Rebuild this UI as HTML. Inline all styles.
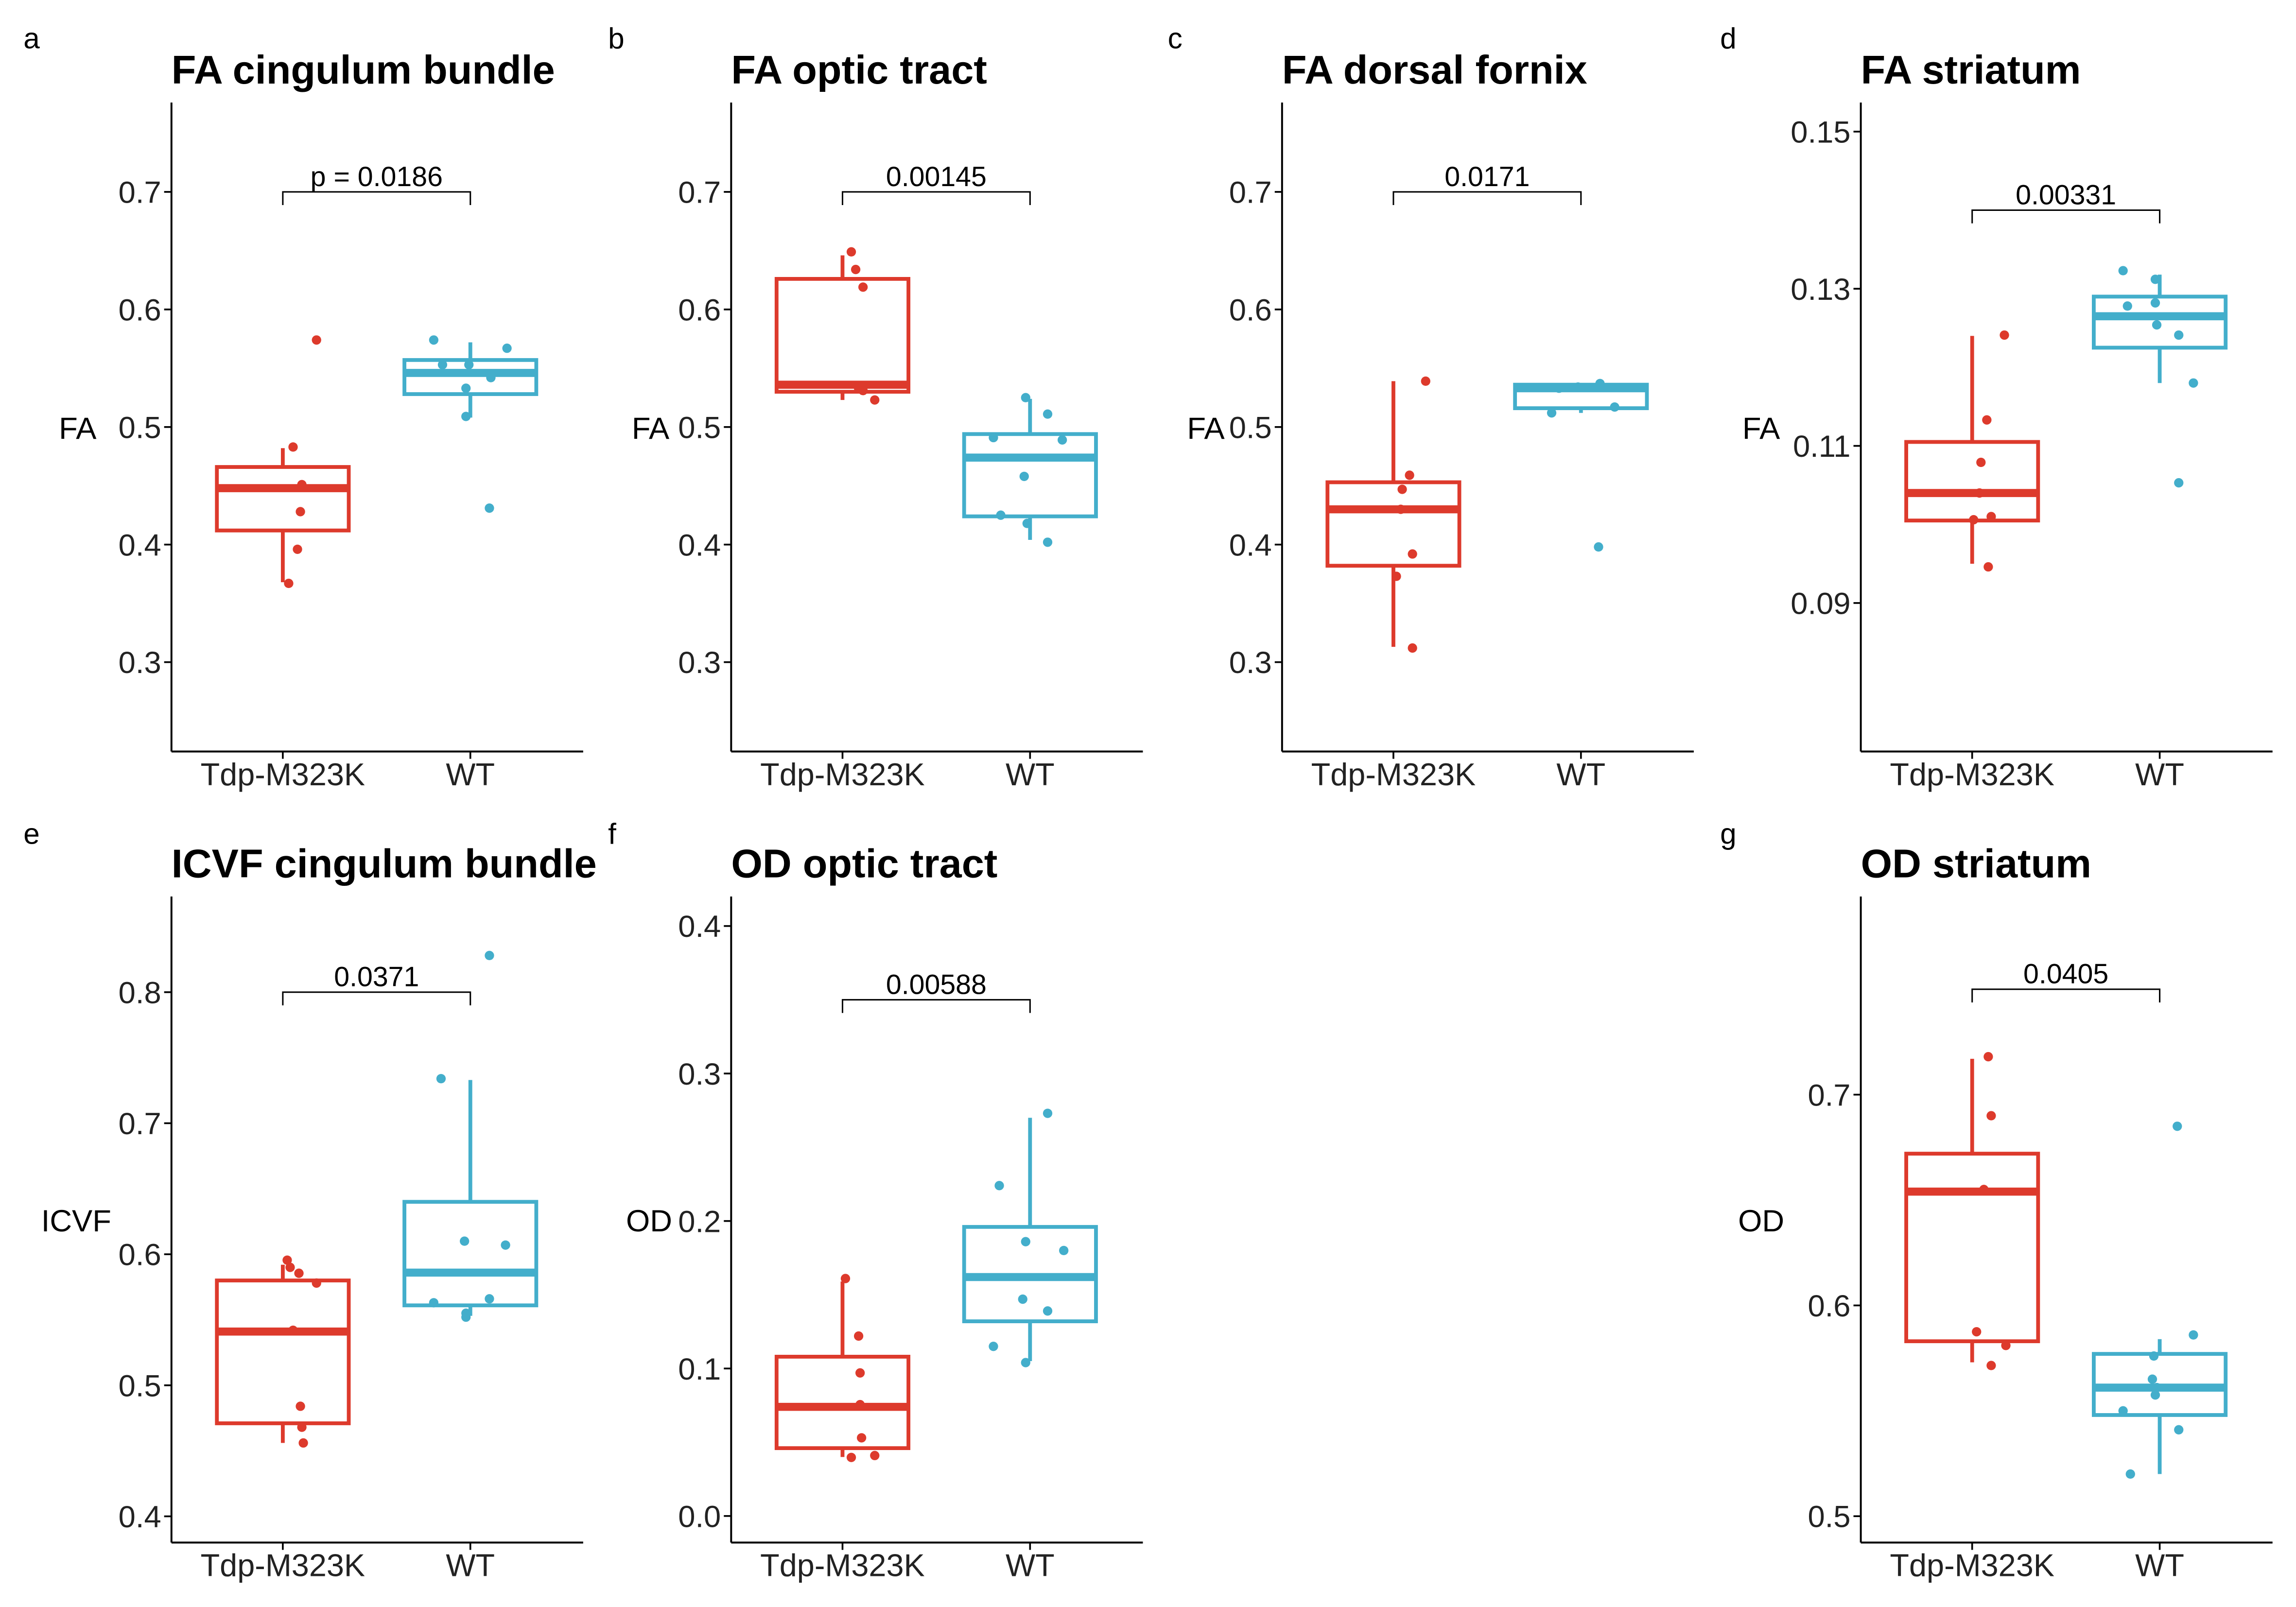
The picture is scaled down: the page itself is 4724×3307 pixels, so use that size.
<!DOCTYPE html>
<html><head><meta charset="utf-8"><style>
html,body{margin:0;padding:0;background:#fff;}
svg{display:block;font-family:"Liberation Sans",Arial,sans-serif;}
</style></head><body>
<svg id="fig" xmlns="http://www.w3.org/2000/svg" width="4724" height="3307" viewBox="0 0 1567 1097"></svg>
<script>
// ---- data ----
const categories = ["Tdp-M323K", "WT"];
const panelTitles = ["FA cingulum bundle","FA optic tract","FA dorsal fornix","FA striatum","ICVF cingulum bundle","OD optic tract","OD striatum"];
const panelLetters = ["a","b","c","d","e","f","g"];
const yTitles = ["FA","FA","FA","FA","ICVF","OD","OD"];
const pLabels = ["p = 0.0186","0.00145","0.0171","0.00331","0.0371","0.00588","0.0405"];
const bracketValues = [0.7,0.7,0.7,0.14,0.8,0.35,0.75];
const yTicks = [[0.3,0.4,0.5,0.6,0.7],[0.3,0.4,0.5,0.6,0.7],[0.3,0.4,0.5,0.6,0.7],[0.09,0.11,0.13,0.15],[0.4,0.5,0.6,0.7,0.8],[0.0,0.1,0.2,0.3,0.4],[0.5,0.6,0.7]];
const yTickLabels = [["0.3","0.4","0.5","0.6","0.7"],["0.3","0.4","0.5","0.6","0.7"],["0.3","0.4","0.5","0.6","0.7"],["0.09","0.11","0.13","0.15"],["0.4","0.5","0.6","0.7","0.8"],["0.0","0.1","0.2","0.3","0.4"],["0.5","0.6","0.7"]];
const yDomains = [[0.224,0.776],[0.224,0.776],[0.224,0.776],[0.0711,0.1537],[0.380,0.873],[-0.018,0.420],[0.4875,0.794]];
// box stats: [min, q1, median, q3, max]
const boxTdp = [[0.368,0.412,0.448,0.466,0.482],[0.523,0.530,0.536,0.626,0.646],[0.313,0.382,0.430,0.453,0.539],[0.095,0.1005,0.104,0.1105,0.124],[0.456,0.471,0.541,0.580,0.592],[0.040,0.046,0.074,0.108,0.159],[0.573,0.583,0.654,0.672,0.717]];
const boxWT = [[0.508,0.528,0.546,0.557,0.572],[0.404,0.424,0.474,0.494,0.524],[0.512,0.516,0.533,0.536,0.537],[0.118,0.1225,0.1265,0.129,0.1318],[0.553,0.561,0.586,0.640,0.733],[0.105,0.132,0.162,0.196,0.270],[0.520,0.548,0.561,0.577,0.584]];
const pointsTdp = [[0.483,0.574,0.451,0.428,0.396,0.367],[0.649,0.634,0.619,0.533,0.531,0.523],[0.539,0.459,0.447,0.392,0.373,0.312,0.430],[0.1241,0.1133,0.1079,0.101,0.1006,0.0946,0.104],[0.5955,0.590,0.5855,0.578,0.542,0.484,0.468,0.456],[0.161,0.122,0.097,0.0755,0.053,0.0397,0.041],[0.718,0.690,0.655,0.5875,0.581,0.5715]];
const pointsWT = [[0.574,0.553,0.553,0.542,0.533,0.567,0.509,0.431],[0.525,0.511,0.491,0.489,0.458,0.425,0.418,0.402],[0.512,0.537,0.534,0.533,0.517,0.398],[0.1323,0.1312,0.1278,0.1282,0.1254,0.1241,0.118,0.1053],[0.828,0.734,0.610,0.607,0.563,0.566,0.555,0.552],[0.273,0.224,0.186,0.180,0.147,0.139,0.115,0.104],[0.685,0.586,0.576,0.565,0.561,0.5575,0.550,0.541,0.520]];
const jitterTdp = [[7,23,13,12,10,4],[6,9,14,11,14,22],[22,11,6,13,2,13,5],[22,10,6,13,1,11,5],[3,5,11,23,7,12,13,14],[2,11,12,12,13,6,22],[11,13,8,3,23,13]];
const jitterWT = [[-25,-19,-1,14,-3,25,-3,13],[-3,12,-25,22,-4,-20,-2,12],[-20,13,-2,-15,23,12],[-25,-3,-22,-3,-2,13,23,13],[13,-20,-4,24,-25,13,-3,-3],[12,-21,-3,23,-5,12,-25,-3],[12,23,-4,-5,-2,-3,-25,13,-20]];

// ---- layout ----
const NS = "http://www.w3.org/2000/svg";
const svg = document.getElementById("fig");
const axisX = [117,499,875,1270,117,499,1270];
const rowTop = [70,70,70,70,612,612,612];
const rowBot = [513,513,513,513,1053,1053,1053];
const yTitleX = [53,444,823,1202,52,443,1202];
const letterX = [22,421,803,1180,22,421,1180];
const RED = "#DD3A2C", BLUE = "#43AECB";
function mk(tag, attrs, parent){const e=document.createElementNS(NS,tag);for(const k in attrs)e.setAttribute(k,attrs[k]);(parent||svg).appendChild(e);return e;}

for(let p=0;p<7;p++){
  const g = mk("g",{});
  
  
  const x0 = axisX[p], x1 = x0+281, top = rowTop[p], bot = rowBot[p];
  const [d0,d1] = yDomains[p];
  const Y = v => bot - (v-d0)/(d1-d0)*(bot-top);
  const X = i => x0 + 76 + i*128;
  const lt = mk("text",{x:letterX[p]-6,y:(top===70?33:576),"font-size":20},g); lt.textContent=panelLetters[p];
  
  
  const tt = mk("text",{x:x0,y:top-13,"font-size":27.5,"font-weight":"bold"},g); tt.textContent=panelTitles[p];
  
  
  const ya = mk("line",{x1:x0,y1:top,x2:x0,y2:bot,stroke:"#000","stroke-width":1.3},g);
  
  
  const xa = mk("line",{x1:x0,y1:bot,x2:x1,y2:bot,stroke:"#000","stroke-width":1.3},g);
  
  
  yTicks[p].forEach((t,i)=>{
    const y=Y(t);
    const tk = mk("line",{x1:x0-5,y1:y,x2:x0,y2:y,stroke:"#000","stroke-width":1.2},g);
    
    
    const tl = mk("text",{x:x0-7,y:y+7.5,"font-size":21,"text-anchor":"end",fill:"#222"},g); tl.textContent=yTickLabels[p][i];
    
    
  });
  categories.forEach((c,i)=>{
    const tk = mk("line",{x1:X(i),y1:bot,x2:X(i),y2:bot+5,stroke:"#000","stroke-width":1.2},g);
    
    
    const cl = mk("text",{x:X(i),y:bot+23,"font-size":21.5,"text-anchor":"middle",fill:"#222"},g); cl.textContent=c;
    
    
  });
  const yt = mk("text",{x:yTitleX[p],y:(top+bot)/2+8,"font-size":21,"text-anchor":"middle"},g); yt.textContent=yTitles[p];
  
  
  [[boxTdp,pointsTdp,jitterTdp,RED],[boxWT,pointsWT,jitterWT,BLUE]].forEach(([B,P,J,col],i)=>{
    const s=B[p], cx=X(i), hw=45;
    const wl = mk("line",{x1:cx,y1:Y(s[0]),x2:cx,y2:Y(s[1]),stroke:col,"stroke-width":2.6},g);
    
    
    const wu = mk("line",{x1:cx,y1:Y(s[3]),x2:cx,y2:Y(s[4]),stroke:col,"stroke-width":2.6},g);
    
    
    const bx = mk("rect",{x:cx-hw,y:Y(s[3]),width:2*hw,height:Y(s[1])-Y(s[3]),fill:"none",stroke:col,"stroke-width":2.6},g);
    
    
    const md = mk("line",{x1:cx-hw,y1:Y(s[2]),x2:cx+hw,y2:Y(s[2]),stroke:col,"stroke-width":5.5},g);
    
    
    P[p].forEach((v,k)=>{
      const dot = mk("circle",{cx:cx+J[p][k],cy:Y(v),r:3.2,fill:col},g);
      
      
    });
  });
  const by = Y(bracketValues[p]);
  const br = mk("path",{d:`M${X(0)},${by+9}V${by}H${X(1)}V${by+9}`,fill:"none",stroke:"#000","stroke-width":1},g);
  
  
  const pl = mk("text",{x:(X(0)+X(1))/2,y:by-4,"font-size":19,"text-anchor":"middle"},g); pl.textContent=pLabels[p];
  
  
}
</script>
</body></html>
